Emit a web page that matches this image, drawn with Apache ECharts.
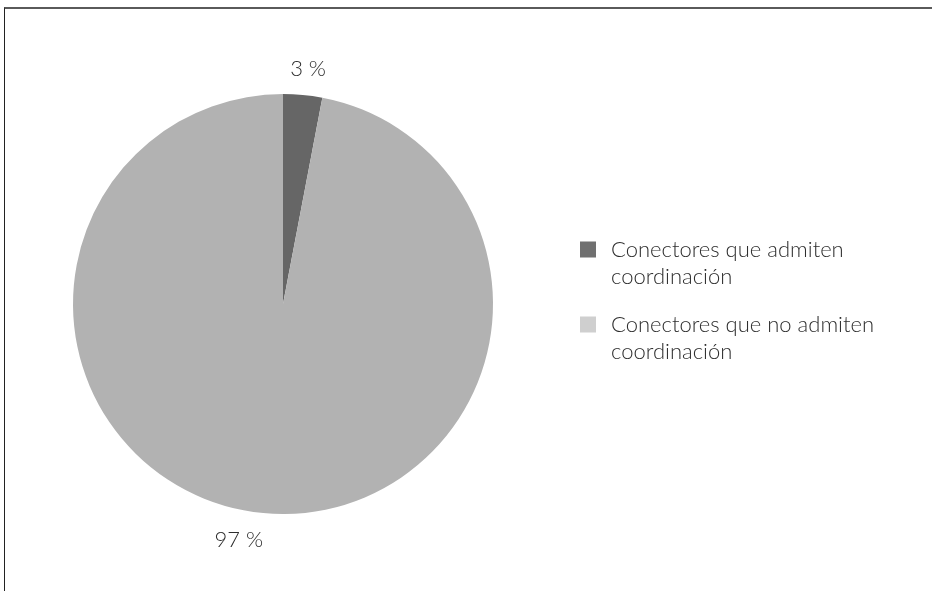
<!DOCTYPE html>
<html><head><meta charset="utf-8">
<script src="https://cdn.jsdelivr.net/npm/echarts@6/dist/echarts.min.js"></script>
<style>
html,body{margin:0;padding:0;background:#fff;}
#frame{position:absolute;left:4px;top:7px;width:928px;height:584px;border-top:2px solid #5a5a5a;border-left:1px solid #222;box-sizing:border-box;}
#chart{position:absolute;left:0;top:0;width:932px;height:591px;}
</style></head>
<body>
<div id="frame"></div>
<div id="chart"></div>
<script>
const categories = ["Conectores que admiten\ncoordinación", "Conectores que no admiten\ncoordinación"];
const values = [3, 97];
const labels = ["3 %", "97 %"];
const sliceColors = ["#666666", "#b2b2b2"];
const legendColors = ["#707070", "#cfcfcf"];

const CENTER = [283, 304], R = 210;
// label placement: radial distance beyond the rim and angular shift (degrees) from the slice's mid angle
const labelPlace = [{d: 26, shift: 0.7}, {d: 30, shift: 5.2}];

const total = values.reduce((a, b) => a + b, 0);
const midAngles = [];
let acc = 0;
values.forEach(v => { midAngles.push((acc + v / 2) / total * 360); acc += v; });

const chart = echarts.init(document.getElementById('chart'), null, {renderer:'canvas'});
const FONT = 'Lato';
chart.setOption({
  animation:false,
  legend:{
    orient:'vertical',
    left:575, top:204,
    itemWidth:26, itemHeight:16, itemGap:-6,
    icon:'path://M0,0h16v16h-16zM26,16h0.001v-0.001z',
    formatter:(n)=>' \n' + n,
    data: categories.map((c,i)=>({name:c, itemStyle:{color:legendColors[i]}})),
    textStyle:{fontFamily:FONT, fontWeight:300, fontSize:22, color:'#2e2e2e', lineHeight:27}
  },
  series:[{
    type:'pie',
    center:CENTER, radius:R,
    startAngle:90, clockwise:true,
    label:{show:true, position:'outside', fontFamily:FONT, fontWeight:300, fontSize:22, color:'#2e2e2e',
      formatter:(p)=>labels[p.dataIndex]},
    labelLine:{show:false},
    labelLayout:(p)=>{
      const pl = labelPlace[p.dataIndex];
      const a = (midAngles[p.dataIndex] + pl.shift) * Math.PI / 180;
      const rr = R + pl.d;
      return {x: CENTER[0] + rr * Math.sin(a), y: CENTER[1] - rr * Math.cos(a), align:'center', verticalAlign:'middle'};
    },
    data: categories.map((c,i)=>({name:c, value:values[i], itemStyle:{color:sliceColors[i]}})),
    emphasis:{disabled:true}
  }]
});
</script>
</body></html>
